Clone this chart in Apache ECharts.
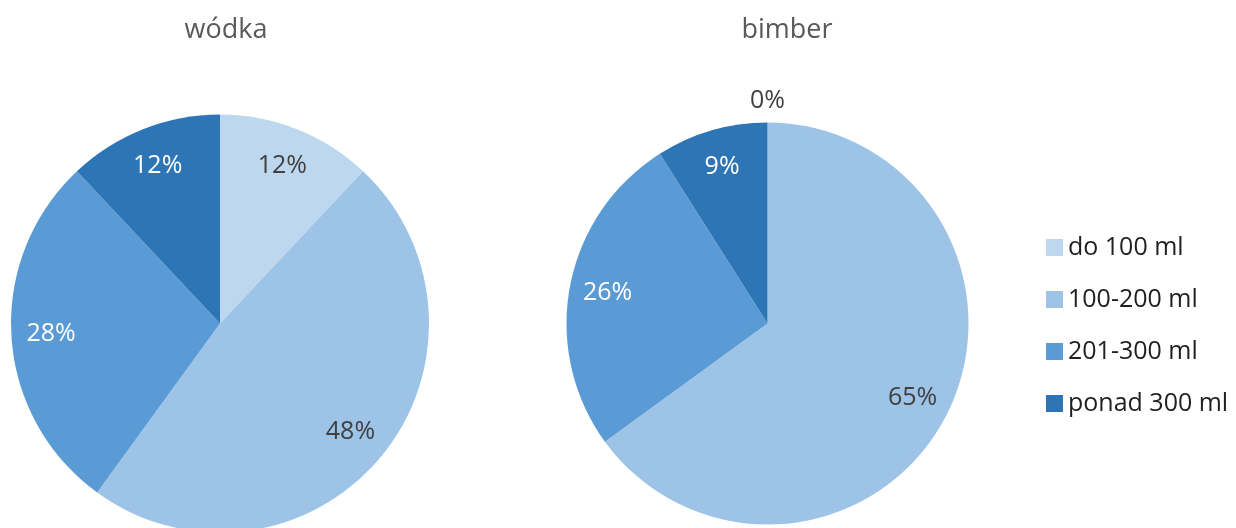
<!DOCTYPE html>
<html>
<head>
<meta charset="utf-8">
<script src="https://cdn.jsdelivr.net/npm/echarts@6/dist/echarts.min.js"></script>
<style>
  html, body { margin: 0; padding: 0; background: #ffffff; }
  #chart { width: 1236px; height: 528px; }
</style>
</head>
<body>
<div id="chart"></div>
<script>
const categories = ['do 100 ml', '100-200 ml', '201-300 ml', 'ponad 300 ml'];
const pieTitles = ['wódka', 'bimber'];
const wodkaValues = [12, 48, 28, 12];
const bimberValues = [0, 65, 26, 9];

const sliceColors = ['#BDD7EE', '#9DC3E6', '#5B9BD5', '#2E75B6'];
const labelColors = ['#404040', '#404040', '#ffffff', '#ffffff'];
const FONT = '"Open Sans", "Noto Sans", sans-serif';

const pies = [
  { title: pieTitles[0], values: wodkaValues, cx: 220, cy: 323.5, r: 209, titleX: 221 },
  { title: pieTitles[1], values: bimberValues, cx: 767.5, cy: 323.5, r: 201, titleX: 782 }
];

function midAngles(values) {
  const total = values.reduce((a, b) => a + b, 0);
  let acc = 0;
  return values.map(v => {
    const mid = (acc + v / 2) / total * 2 * Math.PI;
    acc += v;
    return mid;
  });
}

const chart = echarts.init(document.getElementById('chart'), null, { renderer: 'canvas' });

const series = pies.map((p, si) => {
  const mids = midAngles(p.values);
  return {
    type: 'pie',
    name: p.title,
    center: [p.cx, p.cy],
    radius: [0, p.r],
    startAngle: 90,
    clockwise: true,
    avoidLabelOverlap: false,
    silent: true,
    label: {
      show: true,
      position: 'inside',
      formatter: '{c}%',
      fontFamily: FONT,
      fontSize: 25
    },
    labelLine: { show: false },
    labelLayout: function (params) {
      const i = params.dataIndex;
      const f = p.values[i] === 0 ? 1.11 : 0.81;
      const a = mids[i];
      return {
        x: p.cx + f * p.r * Math.sin(a),
        y: p.cy - f * p.r * Math.cos(a),
        align: 'center',
        verticalAlign: 'middle'
      };
    },
    data: categories.map((c, i) => ({
      name: c,
      value: p.values[i],
      itemStyle: { color: sliceColors[i] },
      label: { color: p.values[i] === 0 ? '#404040' : labelColors[i] }
    }))
  };
});

chart.setOption({
  animation: false,
  backgroundColor: '#ffffff',
  title: pies.map(p => ({
    text: p.title,
    left: p.titleX,
    top: 12,
    textAlign: 'center',
    textStyle: { fontFamily: FONT, fontSize: 27, fontWeight: 'normal', color: '#595959' }
  })),
  legend: {
    orient: 'vertical',
    left: 1041,
    top: 230,
    icon: 'rect',
    itemWidth: 17,
    itemHeight: 17,
    itemGap: 27,
    selectedMode: false,
    data: categories,
    textStyle: { fontFamily: FONT, fontSize: 25, lineHeight: 25, color: '#1f1f1f' }
  },
  series: series
});
</script>
</body>
</html>
